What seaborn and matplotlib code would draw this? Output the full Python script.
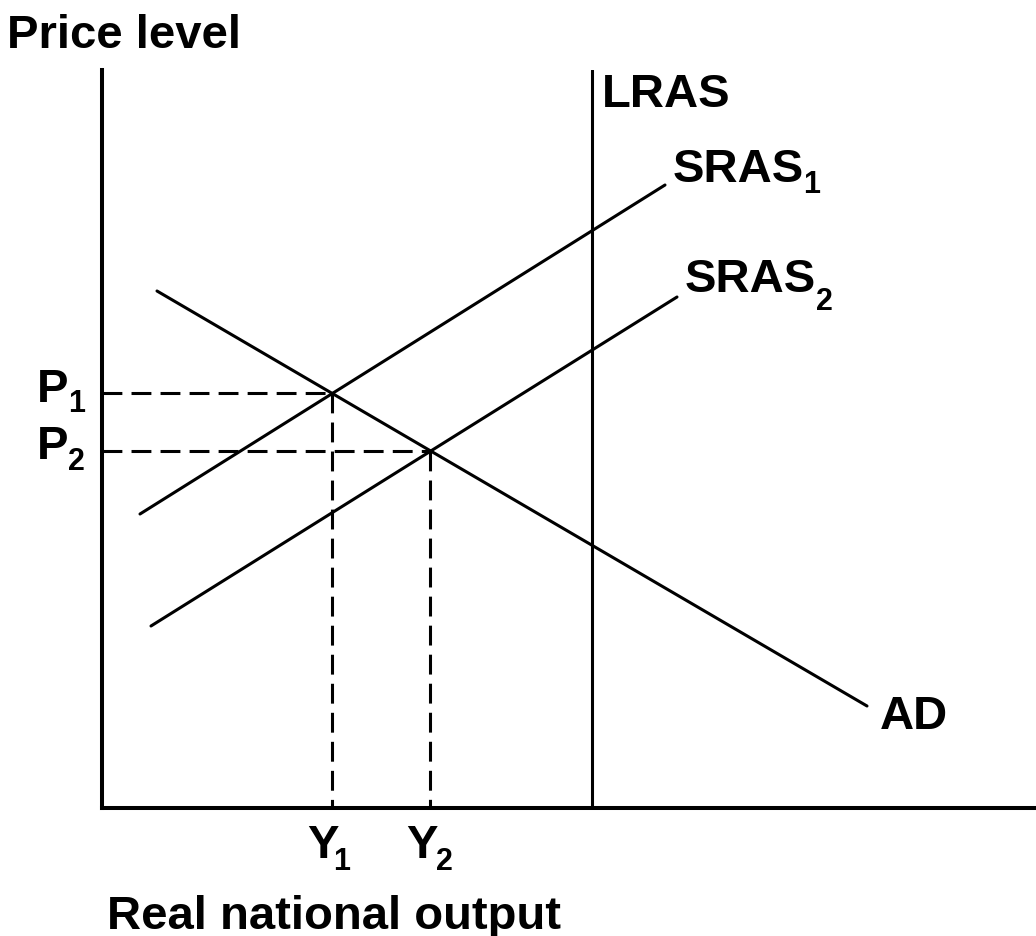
import matplotlib
matplotlib.use("Agg")
import matplotlib.pyplot as plt
import seaborn as sns
import pandas as pd

# ---- data (units; origin at the axes corner) ----
sras1_x = [38, 563]
sras1_y = [294, 623]
sras2_x = [49, 575]
sras2_y = [182, 511]
ad_x = [55, 765]
ad_y = [517, 102]
lras_x = [490, 490]
lras_y = [0, 738]

price_levels = [415, 357]      # P1, P2
outputs = [230, 328]           # Y1, Y2
price_labels = ["P", "P"]
price_subs = ["1", "2"]
output_labels = ["Y", "Y"]
output_subs = ["1", "2"]

curve_names = ["LRAS", "SRAS", "SRAS", "AD"]
curve_subs = ["", "1", "2", ""]

sns.set_style("white")
plt.rcParams["font.family"] = ["Liberation Sans", "DejaVu Sans"]

W, H = 1036, 936
fig = plt.figure(figsize=(W / 100, H / 100), dpi=100)
x0, y0 = 102, 808
ax = fig.add_axes([x0 / W, (H - y0) / H, (W - x0) / W, (y0 - 70) / H])
ax.set_xlim(0, W - x0)
ax.set_ylim(0, y0 - 70)

lw = 2.2
curves = pd.DataFrame({
    "x": sras1_x + sras2_x + ad_x + lras_x,
    "y": sras1_y + sras2_y + ad_y + lras_y,
    "curve": ["SRAS1"] * 2 + ["SRAS2"] * 2 + ["AD"] * 2 + ["LRAS"] * 2,
})
sns.lineplot(data=curves, x="x", y="y", units="curve", estimator=None,
             sort=False, color="black", lw=lw, ax=ax, legend=False)

# dashed guides
for p, yv in zip(price_levels, outputs):
    ax.plot([0, yv], [p, p], color="black", lw=lw, dashes=(6.5, 3.0))
    ax.plot([yv, yv], [p, 0], color="black", lw=lw, dashes=(6.5, 3.0))

for s in ["top", "right"]:
    ax.spines[s].set_visible(False)
for s in ["left", "bottom"]:
    ax.spines[s].set_linewidth(2.9)
    ax.spines[s].set_color("black")
    ax.spines[s].set_capstyle("projecting")
ax.set_xticks([])
ax.set_yticks([])
ax.set_xlabel("")
ax.set_ylabel("")

FS = 34
SFS = 22
kw = dict(ha="left", va="baseline", fontweight="bold", color="black", clip_on=False)

# axis titles
ax.text(-95, 760, "Price level", fontsize=FS, **kw)
ax.text(4.6, -121, "Real national output", fontsize=FS, **kw)

# price labels
p_pos = [(-65.4, 406, -33.9, 396), (-65.4, 349, -33.9, 338)]
for lab, sub, (mx, my, sx, sy) in zip(price_labels, price_subs, p_pos):
    ax.text(mx, my, lab, fontsize=FS, **kw)
    ax.text(sx, sy, sub, fontsize=SFS, **kw)

# output labels
y_pos = [(205.5, -50, 231.6, -62), (304.5, -50, 334, -62)]
for lab, sub, (mx, my, sx, sy) in zip(output_labels, output_subs, y_pos):
    ax.text(mx, my, lab, fontsize=FS, **kw)
    ax.text(sx, sy, sub, fontsize=SFS, **kw)

# curve labels
c_pos = [(499.5, 701, 0, 0), (571, 626, 701.6, 615),
         (583, 516, 713.6, 498), (777.5, 79, 0, 0)]
for lab, sub, (mx, my, sx, sy) in zip(curve_names, curve_subs, c_pos):
    ax.text(mx, my, lab, fontsize=FS, **kw)
    if sub:
        ax.text(sx, sy, sub, fontsize=SFS, **kw)

fig.savefig("out.png", dpi=100)
